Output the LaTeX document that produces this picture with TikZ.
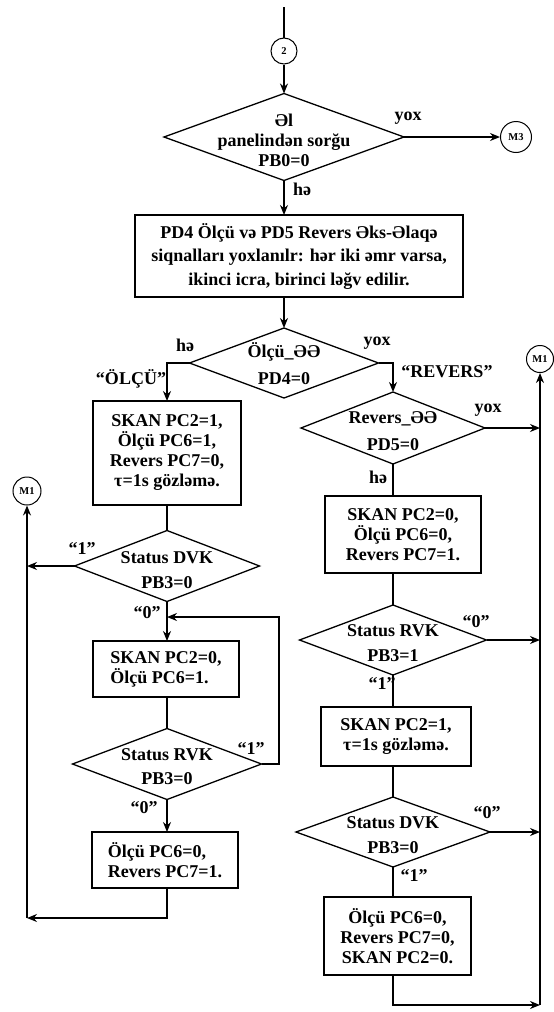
\documentclass[tikz,border=0pt]{standalone}
\usepackage{fontspec}
\setmainfont{Liberation Serif}
\usetikzlibrary{shapes.geometric,arrows.meta}
\newcommand\bxf{\fontsize{18}{20}\selectfont\bfseries}
\newcommand\mxf{\fontsize{10.5}{12}\selectfont\bfseries}
\begin{document}
\begin{tikzpicture}[x=1pt,y=-1pt,
  ln/.style={line width=1.4pt},
  arr/.style={line width=1.4pt,-{Stealth[length=10pt,width=8pt]}},
  box/.style={draw,line width=1.3pt,inner sep=0pt,outer sep=0pt,align=center,font=\bxf},
  dia/.style={draw,shape=diamond,line width=1.3pt,inner sep=0pt,outer sep=0pt},
  dtxt/.style={align=center,inner sep=0pt,font=\bxf},
  lab/.style={inner sep=0pt,font=\bxf},
  conn/.style={draw,circle,line width=1pt,inner sep=0pt,font=\mxf}]
\useasboundingbox (0,0) rectangle (554,1012);
% main column
\coordinate (top) at (284,7);
\node[conn,minimum size=26pt] (c2) at (284,51) {2};
\node[dia,minimum width=240pt,minimum height=87pt] (d1) at (284,137) {};
\node[dtxt,font=\fontsize{18}{20}\selectfont\bfseries] (d1t) at (284,140) {Əl\\panelindən sorğu\\PB0=0};
\node[conn,minimum size=31pt] (m3) at (516,137) {M3};
\node[box,minimum width=328pt,minimum height=82pt,font=\fontsize{18}{23.5}\selectfont\bfseries] (b1) at (299,256)
  {PD4 Ölçü və PD5 Revers Əks-Əlaqə\\siqnalları yoxlanılr: hər iki əmr varsa,\\ikinci icra, birinci ləğv edilir.};
\node[dia,minimum width=189pt,minimum height=70pt] (d2) at (284,363) {};
\node[dtxt,font=\fontsize{18}{27}\selectfont\bfseries] (d2t) at (284,364) {Ölçü\_ƏƏ\\PD4=0};
% left column
\node[box,minimum width=148pt,minimum height=104pt] (L1) at (167,453)
  {SKAN PC2=1,\\Ölçü PC6=1,\\Revers PC7=0,\\τ=1s gözləmə.};
\node[dia,minimum width=185pt,minimum height=71pt] (L2) at (167,566) {};
\node[dtxt,font=\fontsize{18}{25}\selectfont\bfseries] (L2t) at (167,570) {Status DVK\\PB3=0};
\node[box,align=left,minimum width=146pt,minimum height=56pt] (L3) at (166,669)
  {SKAN PC2=0,\\Ölçü PC6=1.};
\node[dia,minimum width=189pt,minimum height=71pt] (L4) at (167,764) {};
\node[dtxt,font=\fontsize{18}{24}\selectfont\bfseries] (L4t) at (167,767) {Status RVK\\PB3=0};
\node[box,align=left,minimum width=146pt,minimum height=56pt] (L5) at (165,860)
  {Ölçü PC6=0,\\Revers PC7=1.};
\node[conn,minimum size=28pt] (M1l) at (27,491) {M1};
\coordinate (bl) at (27,918);
\coordinate (lp) at (279,617);
% right column
\node[dia,minimum width=184pt,minimum height=72pt] (R1) at (393,428) {};
\node[dtxt,font=\fontsize{18}{27}\selectfont\bfseries] (R1t) at (393,431) {Revers\_ƏƏ\\PD5=0};
\node[box,minimum width=156pt,minimum height=77pt] (R2) at (403,534.5)
  {SKAN PC2=0,\\Ölçü PC6=0,\\Revers PC7=1.};
\node[dia,minimum width=187pt,minimum height=70pt] (R3) at (393,640) {};
\node[dtxt,font=\fontsize{18}{25}\selectfont\bfseries] (R3t) at (393,643) {Status RVK\\PB3=1};
\node[box,minimum width=150pt,minimum height=59pt] (R4) at (396,736.5)
  {SKAN PC2=1,\\τ=1s gözləmə.};
\node[dia,minimum width=194pt,minimum height=70pt] (R5) at (393,832) {};
\node[dtxt,font=\fontsize{18}{25}\selectfont\bfseries] (R5t) at (393,835) {Status DVK\\PB3=0};
\node[box,minimum width=147pt,minimum height=78pt] (R6) at (397.5,936)
  {Ölçü PC6=0,\\Revers PC7=0,\\SKAN PC2=0.};
\node[conn,minimum size=27pt] (M1r) at (540,359) {M1};
\coordinate (br) at (540,1005);
% connectors main
\draw[ln] (top) -- (c2.north);
\draw[arr] (c2.south) -- (d1.north);
\draw[arr] (d1.east) -- (m3.west);
\draw[arr] (d1.south) -- (d1.south |- b1.north);
\draw[arr] (d1.south |- b1.south) -- (d2.north);
\draw[arr] (d2.west) -| (L1.north);
\draw[arr] (d2.east) -| (R1.north);
% left connectors
\draw[ln] (L1.south) -- (L2.north);
\draw[arr] (L2.west) -- (L2.west -| bl);
\draw[arr] (L2.south) -- (L2.south |- L3.north);
\draw[ln] (L2.south |- L3.south) -- (L4.north);
\draw[arr] (L4.east) -| (lp) -- (L2.south |- lp);
\draw[arr] (L4.south) -- (L4.south |- L5.north);
\draw[arr] (L4.south |- L5.south) -- (L4.south |- bl) -- (bl);
\draw[arr] (bl) -- (M1l.south);
% right connectors
\draw[arr] (R1.east) -- (R1.east -| br);
\draw[ln] (R1.south) -- (R1.south |- R2.north);
\draw[ln] (R1.south |- R2.south) -- (R3.north);
\draw[arr] (R3.east) -- (R3.east -| br);
\draw[ln] (R3.south) -- (R3.south |- R4.north);
\draw[ln] (R3.south |- R4.south) -- (R5.north);
\draw[arr] (R5.east) -- (R5.east -| br);
\draw[ln] (R5.south) -- (R5.south |- R6.north);
\draw[arr] (R5.south |- R6.south) -- (R5.south |- br) -- (br);
\draw[arr] (br) -- (M1r.south);
% labels
\node[lab] (l1) at (408,118) {yox};
\node[lab] (l2) at (302,189) {hə};
\node[lab] (l3) at (185,345) {hə};
\node[lab] (l4) at (377,343) {yox};
\node[lab] (l5) at (131,379) {“ÖLÇÜ”};
\node[lab] (l6) at (447,372) {“REVERS”};
\node[lab] (l7) at (488,410) {yox};
\node[lab] (l8) at (378,477) {hə};
\node[lab] (l9) at (476,622) {“0”};
\node[lab] (l10) at (382,684) {“1”};
\node[lab] (l11) at (487,813) {“0”};
\node[lab] (l12) at (414,876) {“1”};
\node[lab] (l13) at (82,549) {“1”};
\node[lab] (l14) at (147,613) {“0”};
\node[lab] (l15) at (251,749) {“1”};
\node[lab] (l16) at (144,808) {“0”};
\end{tikzpicture}
\end{document}
